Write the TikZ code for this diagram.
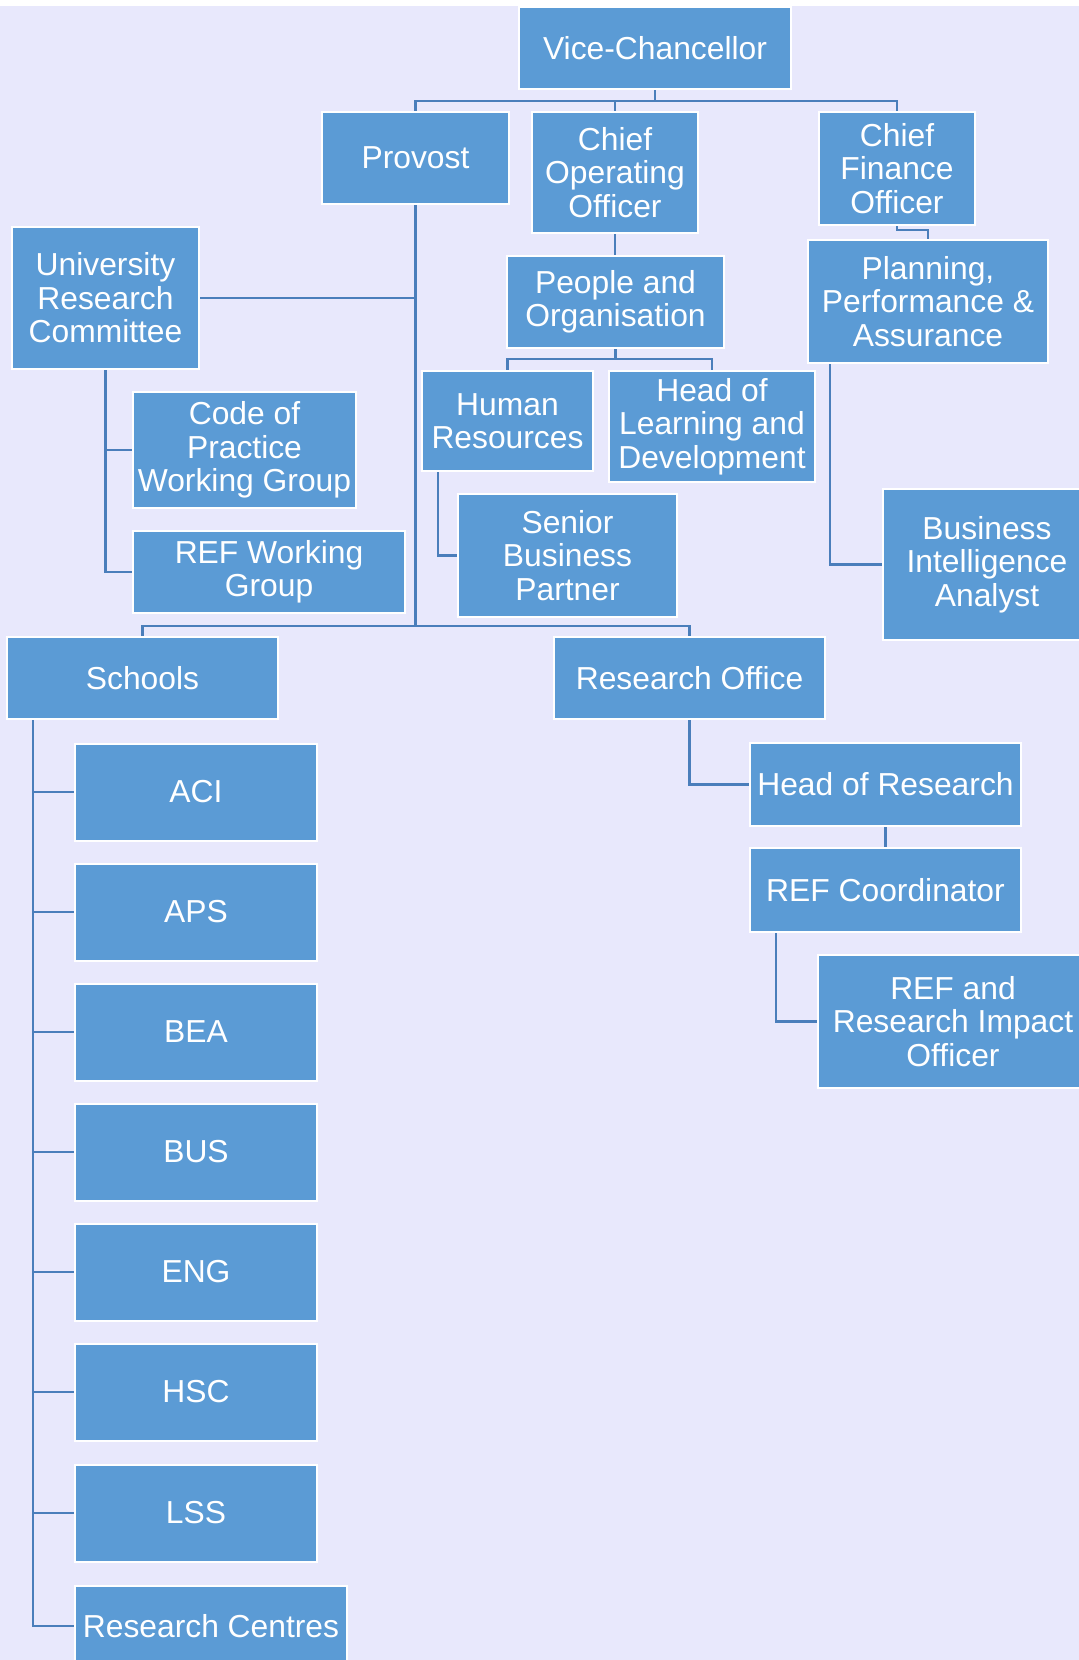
\documentclass[tikz,border=0pt]{standalone}
\usepackage{fontspec}
\setmainfont{Liberation Sans}
\usetikzlibrary{calc}
\pgfdeclarelayer{bg}
\pgfsetlayers{bg,main}
\definecolor{pagebg}{HTML}{E8E8FC}
\definecolor{boxblue}{HTML}{5B9BD5}
\definecolor{linkblue}{HTML}{4A7EBB}

\begin{document}
\begin{tikzpicture}[x=1pt,y=-1pt,
  orgbox/.style={draw=white, line width=2pt, fill=boxblue, text=white,
    align=center, inner sep=0pt,
    font=\fontsize{31.8pt}{33.5pt}\selectfont},
  wire/.style={draw=linkblue, line width=2.2pt}]
\useasboundingbox (0,0) rectangle (1079,1660);
\clip (0,0) rectangle (1079,1660);

% top level
\node[orgbox, minimum width=272pt, minimum height=82pt] (vc) at (655,48) {Vice-Chancellor};
\node[orgbox, minimum width=187pt, minimum height=92pt] (prov) at (415.5,158) {Provost};
\node[orgbox, minimum width=166pt, minimum height=121pt] (coo) at (615,172.5) {Chief\\Operating\\Officer};
\node[orgbox, minimum width=156pt, minimum height=113pt] (cfo) at (897,168.5) {Chief\\Finance\\Officer};

% second level
\node[orgbox, minimum width=187pt, minimum height=142pt] (urc) at (105.5,298) {University\\Research\\Committee};
\node[orgbox, minimum width=217pt, minimum height=92pt] (po) at (615.5,302) {People and\\Organisation};
\node[orgbox, minimum width=240pt, minimum height=123pt] (plan) at (928,301.5) {Planning,\\Performance \&\\Assurance};
\node[orgbox, minimum width=171pt, minimum height=100pt] (hr) at (507.5,421) {Human\\Resources};
\node[orgbox, minimum width=206pt, minimum height=111pt] (hold) at (712,426.5) {Head of\\Learning and\\Development};
\node[orgbox, minimum width=223pt, minimum height=116pt] (cop) at (244.5,450) {Code of\\Practice\\Working Group};
\node[orgbox, minimum width=219pt, minimum height=123pt] (sbp) at (567.5,555.5) {Senior\\Business\\Partner};
\node[orgbox, minimum width=208pt, minimum height=151pt] (bia) at (987,564.5) {Business\\Intelligence\\Analyst};
\node[orgbox, minimum width=272pt, minimum height=82pt] (refwg) at (269,572) {REF Working\\Group};

% schools and research office
\node[orgbox, minimum width=271pt, minimum height=82pt] (schools) at (142.5,678) {Schools};
\node[orgbox, minimum width=271pt, minimum height=82pt] (ro) at (689.5,678) {Research Office};
\node[orgbox, minimum width=271pt, minimum height=83pt] (hor) at (885.5,784.5) {Head of Research};
\node[orgbox, minimum width=271pt, minimum height=84pt] (refc) at (885.5,890) {REF Coordinator};
\node[orgbox, minimum width=270pt, minimum height=133pt] (rio) at (953,1021.5) {REF and\\Research Impact\\Officer};

\foreach \nm/\cy in {aci/792, aps/912, bea/1032, bus/1152, eng/1272, hsc/1392, lss/1513}
  \node[orgbox, minimum width=242pt, minimum height=97pt] (\nm) at (196,\cy) {\MakeUppercase{\nm}};
\node[orgbox, minimum width=272pt, minimum height=80pt] (rc) at (211,1626) {Research Centres};

\begin{pgfonlayer}{bg}
  \fill[white] (0,0) rectangle (1079,1660);
  \fill[pagebg] (0,6) rectangle (1079,1660);

  % Vice-Chancellor's reports
  \coordinate (vcbus) at ($(vc.south)+(0,11)$);
  \draw[wire] (vc.south) -- (vcbus) -| (prov.north);
  \draw[wire] (vcbus) -| (coo.north);
  \draw[wire] (vcbus) -| (cfo.north);

  % Chief Operating Officer branch
  \draw[wire] (coo.south) -- (coo.south |- po.north);
  \coordinate (pobus) at ($(po.south)+(0,10)$);
  \draw[wire] (po.south) -- (pobus) -| (hr.north);
  \draw[wire] (pobus) -| (hold.north);
  \draw[wire] ([xshift=17pt]hr.south west) |- (sbp.west);

  % Chief Finance Officer branch
  \draw[wire] (cfo.south) -- ++(0,4) -| (plan.north);
  \draw[wire] ([xshift=23pt]plan.south west) |- (bia.west);

  % Provost branch
  \coordinate (pbus) at (prov.south |- 0,626);
  \draw[wire] (prov.south) -- (pbus);
  \draw[wire] (urc.east) -- (urc.east -| prov.south);
  \draw[wire] (schools.north) |- (pbus) -| (ro.north);

  % University Research Committee
  \draw[wire] (urc.south) |- (cop.west);
  \draw[wire] (urc.south) |- (refwg.west);

  % schools list
  \foreach \nm in {aci, aps, bea, bus, eng, hsc, lss, rc}
    \draw[wire] ([xshift=27pt]schools.south west) |- (\nm.west);

  % Research Office chain
  \draw[wire] (ro.south) |- (hor.west);
  \draw[wire] (hor.south) -- (refc.north);
  \draw[wire] ([xshift=27pt]refc.south west) |- (rio.west);
\end{pgfonlayer}
\end{tikzpicture}
\end{document}
